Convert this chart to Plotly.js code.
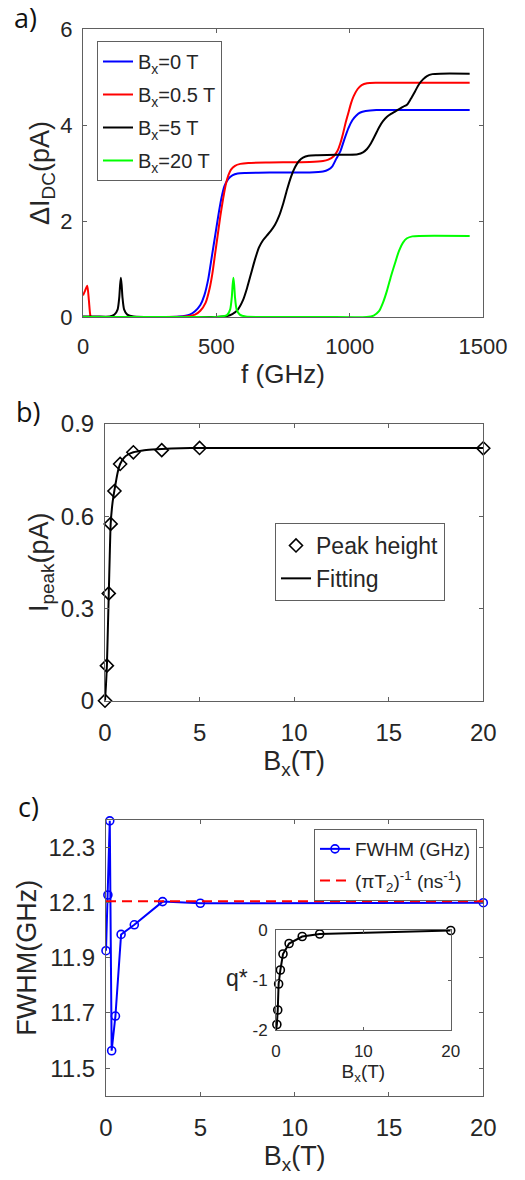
<!DOCTYPE html>
<html><head><meta charset="utf-8">
<script src="https://cdn.plot.ly/plotly-3.0.1.min.js"></script>
<style>html,body{margin:0;padding:0;background:#fff}#chart{width:525px;height:1180px}</style>
</head><body><div id="chart"></div>
<script>
// ---------- Panel a: ΔI_DC vs f ----------
const fB0 = [0,100,200,300,360,400,420,440,455,470,480,490,500,510,520,530,545,560,580,610,700,850,900,920,935,950,965,980,995,1010,1025,1040,1060,1100,1200,1450];
const iB0 = [0,0,0,0,0.01,0.05,0.12,0.25,0.45,0.8,1.15,1.5,1.85,2.2,2.5,2.72,2.88,2.95,2.99,3.0,3.01,3.01,3.03,3.07,3.14,3.3,3.45,3.7,3.93,4.1,4.2,4.26,4.29,4.31,4.31,4.31];

const fB05 = [0,8,16,22,28,35,50,70,100,200,300,380,420,440,460,475,485,495,505,515,525,535,545,555,570,590,620,700,850,900,920,940,955,965,975,985,995,1005,1015,1030,1045,1065,1100,1200,1450];
const iB05 = [0.45,0.55,0.65,0.35,0.02,-0.04,-0.03,-0.01,0,0,0,0.01,0.05,0.13,0.3,0.6,0.9,1.3,1.7,2.1,2.45,2.75,2.95,3.07,3.15,3.19,3.21,3.22,3.23,3.25,3.28,3.35,3.47,3.62,3.82,4.05,4.25,4.45,4.6,4.75,4.83,4.87,4.88,4.88,4.88];

const fB5 = [0,50,100,118,130,136,139,142,145,148,154,166,190,300,400,500,540,560,580,600,615,630,645,660,675,690,705,720,735,750,765,780,795,810,825,845,880,950,1000,1030,1050,1065,1080,1095,1110,1125,1140,1155,1170,1185,1200,1215,1230,1245,1260,1275,1290,1310,1340,1450];
const iB5 = [0.01,0.01,0.01,0.05,0.16,0.41,0.66,0.82,0.66,0.41,0.16,0.05,0.01,0,0,0,0.02,0.06,0.15,0.35,0.6,0.9,1.2,1.45,1.6,1.7,1.8,1.92,2.1,2.35,2.65,2.92,3.12,3.25,3.32,3.36,3.37,3.38,3.38,3.39,3.43,3.5,3.62,3.78,3.95,4.08,4.17,4.23,4.28,4.33,4.38,4.42,4.55,4.7,4.85,4.95,5.02,5.06,5.07,5.07];

const fB20 = [0,200,400,500,540,552,558,561,564,567,570,576,588,610,700,900,1064,1090,1110,1125,1140,1155,1170,1185,1200,1215,1235,1260,1450];
const iB20 = [0,0,0,0,0.04,0.16,0.41,0.66,0.82,0.66,0.41,0.16,0.05,0.01,0,0,0,0.03,0.12,0.3,0.55,0.85,1.12,1.38,1.55,1.64,1.68,1.69,1.69];

const namesA = ['B<sub>x</sub>=0 T','B<sub>x</sub>=0.5 T','B<sub>x</sub>=5 T','B<sub>x</sub>=20 T'];
const colorsA = ['#0000ff','#ff0000','#000000','#00ff00'];
const xTicksA = [0,500,1000,1500];
const yTicksA = [0,2,4,6];

// ---------- Panel b: peak height vs Bx ----------
const peakBx = [0,0.1,0.2,0.3,0.5,0.8,1.5,3,5,20];
const peakI  = [0,0.114,0.349,0.575,0.682,0.77,0.808,0.815,0.822,0.821];
const fitBx  = [0,0.05,0.1,0.15,0.2,0.25,0.3,0.4,0.5,0.6,0.7,0.8,1.0,1.2,1.5,2,2.5,3,4,5,10,20];
const fitI   = [0,0.05,0.114,0.23,0.349,0.47,0.575,0.645,0.685,0.72,0.75,0.77,0.79,0.8,0.808,0.814,0.817,0.819,0.821,0.822,0.822,0.822];
const yTicksB = [0,0.3,0.6,0.9];
const yTickTextB = ['0','0.3','0.6','0.9'];
const xTicksBC = [0,5,10,15,20];

// ---------- Panel c: FWHM vs Bx ----------
const fwhmBx = [0,0.1,0.2,0.3,0.5,0.8,1.5,3,5,20];
const fwhm   = [11.926,12.128,12.397,11.563,11.689,11.985,12.02,12.104,12.098,12.1];
const t2Bx   = [0,20];
const t2Rate = [12.105,12.105];
const yTicksC = [11.5,11.7,11.9,12.1,12.3];
const yTickTextC = ['11.5','11.7','11.9','12.1','12.3'];

// ---------- Inset: q* vs Bx ----------
const qBx = [0,0.1,0.2,0.3,0.5,0.8,1.5,3,5,20];
const qStar = [-2.01,-1.89,-1.6,-1.08,-0.8,-0.48,-0.27,-0.13,-0.08,-0.01];
const xTicksIn = [0,10,20];
const yTicksIn = [-2,-1,0];
const yTickTextIn = ['-2','-1','0'];

// ---------- geometry helpers (pixel -> paper) ----------
const W = 525, H = 1180;
const px = v => v / W;
const py = v => 1 - v / H;

const FONT = 'Liberation Sans, Arial, sans-serif';
const TXT = '#262626';
const AX = '#606060';

function axisBase(extra) {
  return Object.assign({
    showgrid:false, zeroline:false, showline:true, mirror:'ticks',
    linecolor:AX, linewidth:1, ticks:'inside', ticklen:4, tickcolor:AX, tickwidth:1,
    tickfont:{family:FONT, size:22, color:TXT}, fixedrange:true
  }, extra);
}

const traces = [];
const fA = [fB0, fB05, fB5, fB20];
const iA = [iB0, iB05, iB5, iB20];
for (let k = 0; k < 4; k++) {
  traces.push({
    x: fA[k], y: iA[k], type:'scatter', mode:'lines', name:namesA[k],
    line:{color:colorsA[k], width:2, shape:'spline', smoothing:0.6},
    xaxis:'x', yaxis:'y', legend:'legend', legendgroup:'a'+k
  });
}
traces.push({
  x: peakBx, y: peakI, type:'scatter', mode:'markers', name:'Peak height',
  marker:{symbol:'diamond-open', size:10, color:'#000', line:{width:1.6, color:'#000'}},
  cliponaxis:false, xaxis:'x2', yaxis:'y2', legend:'legend2'
});
traces.push({
  x: fitBx, y: fitI, type:'scatter', mode:'lines', name:'Fitting',
  line:{color:'#000', width:2, shape:'spline', smoothing:0.5},
  xaxis:'x2', yaxis:'y2', legend:'legend2'
});
traces.push({
  x: fwhmBx, y: fwhm, type:'scatter', mode:'lines+markers', name:'FWHM (GHz)',
  line:{color:'#0000ff', width:2},
  marker:{symbol:'circle-open', size:8, color:'#0000ff', line:{width:1.6, color:'#0000ff'}},
  cliponaxis:false, xaxis:'x3', yaxis:'y3', legend:'legend3', legendgroup:'c1'
});
traces.push({
  x: t2Bx, y: t2Rate, type:'scatter', mode:'lines', name:'(πT<sub>2</sub>)<sup>-1</sup> (ns<sup>-1</sup>)',
  line:{color:'#ff0000', width:2, dash:'10px,6px'},
  xaxis:'x3', yaxis:'y3', legend:'legend3', legendgroup:'c2'
});
traces.push({
  x: qBx, y: qStar, type:'scatter', mode:'lines+markers', name:'q*', showlegend:false,
  line:{color:'#000', width:2},
  marker:{symbol:'circle-open', size:8, color:'#000', line:{width:1.6, color:'#000'}},
  cliponaxis:false, xaxis:'x4', yaxis:'y4'
});

const legendBase = {
  bgcolor:'#ffffff', bordercolor:AX, borderwidth:1, xref:'paper', yref:'paper',
  xanchor:'left', yanchor:'top', itemclick:false, itemdoubleclick:false
};

const layout = {
  width:W, height:H, margin:{l:0,r:0,t:0,b:0},
  paper_bgcolor:'#fff', plot_bgcolor:'#fff',
  font:{family:FONT, color:TXT, size:20},
  xaxis: axisBase({domain:[px(83),px(483)], range:[0,1500], anchor:'y',
    tickvals:xTicksA, ticklabelstandoff:10,
    title:{text:'f (GHz)', font:{family:FONT,size:26,color:TXT}, standoff:6}}),
  yaxis: axisBase({domain:[py(317),py(29)], range:[0,6], anchor:'x',
    tickvals:yTicksA, ticklabelstandoff:5,
    title:{text:'ΔI<sub>DC</sub>(pA)', font:{family:FONT,size:27,color:TXT}, standoff:2}}),
  xaxis2: axisBase({domain:[px(105),px(483.3)], range:[0,20], anchor:'y2',
    tickvals:xTicksBC, ticklabelstandoff:10, tickfont:{family:FONT,size:24,color:TXT},
    title:{text:'B<sub>x</sub>(T)', font:{family:FONT,size:27,color:TXT}, standoff:6}}),
  yaxis2: axisBase({domain:[py(700.7),py(424)], range:[0,0.9], anchor:'x2',
    tickvals:yTicksB, ticktext:yTickTextB, ticklabelstandoff:5, tickfont:{family:FONT,size:24,color:TXT},
    title:{text:'I<sub>peak</sub>(pA)', font:{family:FONT,size:27,color:TXT}, standoff:4}}),
  xaxis3: axisBase({domain:[px(106),px(483.3)], range:[0,20], anchor:'y3',
    tickvals:xTicksBC, ticklabelstandoff:10, tickfont:{family:FONT,size:24,color:TXT},
    title:{text:'B<sub>x</sub>(T)', font:{family:FONT,size:27,color:TXT}, standoff:6}}),
  yaxis3: axisBase({domain:[py(1095.7),py(820)], range:[11.4,12.4], anchor:'x3',
    tickvals:yTicksC, ticktext:yTickTextC, ticklabelstandoff:5, tickfont:{family:FONT,size:24,color:TXT},
    title:{text:'FWHM(GHz)', font:{family:FONT,size:27,color:TXT}, standoff:4}}),
  xaxis4: axisBase({domain:[px(276),px(450.7)], range:[0,20], anchor:'y4',
    tickvals:xTicksIn, ticklabelstandoff:6, ticklen:3, tickfont:{family:FONT,size:17,color:TXT},
    title:{text:'B<sub>x</sub>(T)', font:{family:FONT,size:19,color:TXT}, standoff:2}}),
  yaxis4: axisBase({domain:[py(1030),py(930)], range:[-2,0], anchor:'x4',
    tickvals:yTicksIn, ticktext:yTickTextIn, ticklabelstandoff:4, ticklen:3, tickfont:{family:FONT,size:17,color:TXT}}),
  legend: Object.assign({}, legendBase, {x:px(97), y:py(41), font:{family:FONT,size:20,color:TXT}, traceorder:'grouped', tracegroupgap:4}),
  legend2: Object.assign({}, legendBase, {x:px(275), y:py(523), font:{family:FONT,size:23,color:TXT}, traceorder:'normal'}),
  legend3: Object.assign({}, legendBase, {x:px(314), y:py(829), font:{family:FONT,size:19,color:TXT}, traceorder:'grouped', tracegroupgap:4}),
  annotations:[
    {text:'a)', xref:'paper', yref:'paper', x:px(12), y:py(17), xanchor:'left', yanchor:'middle', showarrow:false, font:{family:'Open Sans, sans-serif', size:27, color:'#111'}},
    {text:'b)', xref:'paper', yref:'paper', x:px(14), y:py(411), xanchor:'left', yanchor:'middle', showarrow:false, font:{family:'Open Sans, sans-serif', size:27, color:'#111'}},
    {text:'c)', xref:'paper', yref:'paper', x:px(16), y:py(806), xanchor:'left', yanchor:'middle', showarrow:false, font:{family:'Open Sans, sans-serif', size:27, color:'#111'}},
    {text:'q*', xref:'paper', yref:'paper', x:px(250), y:py(978), xanchor:'right', yanchor:'middle', showarrow:false, font:{family:FONT, size:23, color:TXT}}
  ]
};

Plotly.newPlot('chart', traces, layout, {displayModeBar:false, staticPlot:true});
</script>
</body></html>
